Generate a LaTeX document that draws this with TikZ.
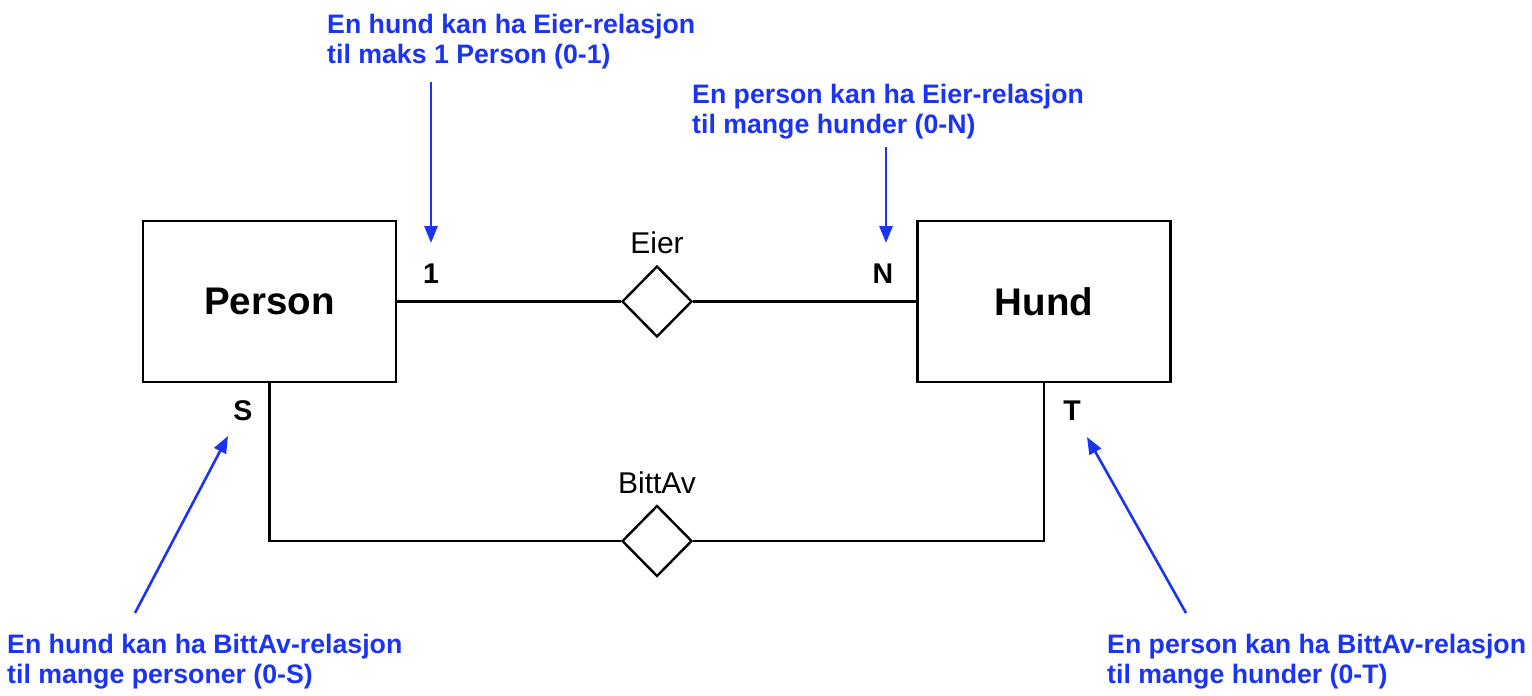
\documentclass[tikz,border=0pt]{standalone}
\usepackage{fontspec}
\setmainfont{Liberation Sans}
\usetikzlibrary{shapes.geometric,arrows.meta}
\definecolor{annblue}{RGB}{27,51,242}
\begin{document}
\begin{tikzpicture}[x=1pt,y=-1pt,
 entity/.style={draw,line width=2.4pt,rectangle,minimum width=253pt,minimum height=161pt,inner sep=0pt,font=\fontsize{38.5}{40}\selectfont\bfseries},
 rel/.style={draw,line width=2.4pt,diamond,minimum width=70pt,minimum height=71pt,inner sep=0pt},
 rellabel/.style={font=\fontsize{30}{34}\selectfont,inner sep=0pt,anchor=base},
 card/.style={font=\fontsize{28.5}{30}\selectfont\bfseries,inner sep=0pt,anchor=base},
 note/.style={font=\fontsize{26.7}{30}\selectfont\bfseries,text=annblue,align=left,inner sep=0pt,anchor=north west},
 conn/.style={line width=2.4pt},
 pointer/.style={draw=annblue,fill=annblue,line width=2.6pt,-{Triangle[length=17pt,width=13pt]}}]
\fill[white] (0,0) rectangle (1532,696);
\useasboundingbox (0,0) rectangle (1532,696);

\node[entity] (person) at (269.5,301.5) {Person};
\node[entity] (hund) at (1044,301.5) {Hund};
\node[rel] (eier) at (657,301.5) {};
\node[rel] (bittav) at (657,541) {};
\node[rellabel] (eierlbl) at (657,253) {Eier};
\node[rellabel] (bittavlbl) at (657,493) {BittAv};

\node[card] (c1) at (431,283) {1};
\node[card] (cN) at (883,283) {N};
\node[card] (cS) at (243,420) {S};
\node[card] (cT) at (1072,420) {T};

\draw[conn] (person.east) -- (eier.west);
\draw[conn] (eier.east) -- (hund.west);
\draw[conn] (person.south) |- (bittav.west);
\draw[conn] (bittav.east) -| (hund.south);

\node[note] (n1) at (327,13.5) {En hund kan ha Eier-relasjon\\til maks 1 Person (0-1)};
\node[note] (n2) at (692,83.5) {En person kan ha Eier-relasjon\\til mange hunder (0-N)};
\node[note] (n3) at (7,633.5) {En hund kan ha BittAv-relasjon\\til mange personer (0-S)};
\node[note] (n4) at (1107,633.5) {En person kan ha BittAv-relasjon\\til mange hunder (0-T)};

\coordinate (p1s) at (431,82);
\coordinate (p1e) at (431,243);
\coordinate (p2s) at (886,147);
\coordinate (p2e) at (886,243);
\coordinate (p3s) at (135,613);
\coordinate (p3e) at (228,436);
\coordinate (p4s) at (1186,613);
\coordinate (p4e) at (1087,437);
\draw[pointer] (p1s) -- (p1e);
\draw[pointer] (p2s) -- (p2e);
\draw[pointer] (p3s) -- (p3e);
\draw[pointer] (p4s) -- (p4e);
\end{tikzpicture}
\end{document}
